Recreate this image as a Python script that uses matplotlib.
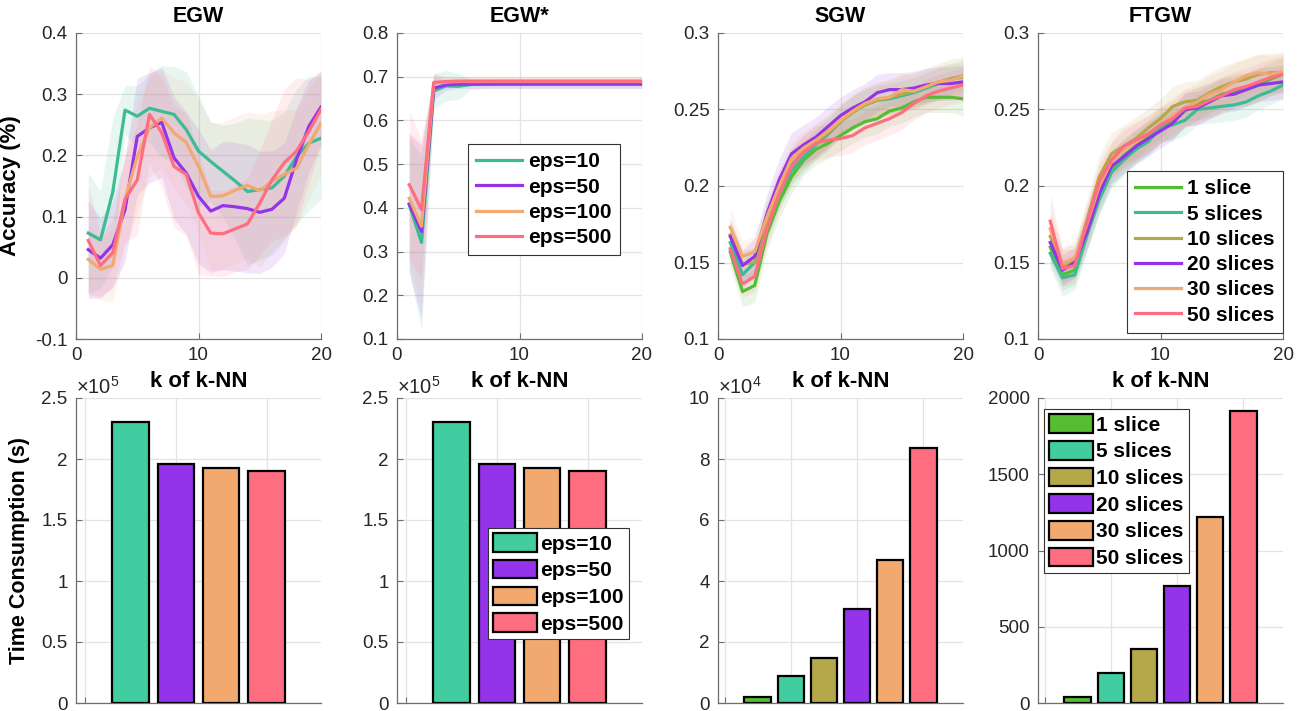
import numpy as np
import matplotlib.pyplot as plt
from matplotlib.ticker import FuncFormatter

plt.rcParams['font.family'] = ['Liberation Sans', 'DejaVu Sans']
plt.rcParams['mathtext.fontset'] = 'custom'
plt.rcParams['mathtext.rm'] = 'Liberation Sans'

k = np.arange(1, 21)

# ---- accuracy curves (mean and std over runs) ----
eps_labels = ['eps=10', 'eps=50', 'eps=100', 'eps=500']
slice_labels = ['1 slice', '5 slices', '10 slices', '20 slices', '30 slices', '50 slices']

egw_mean_10 = [0.073, 0.062, 0.140, 0.274, 0.264, 0.277, 0.272, 0.267, 0.242, 0.207,
               0.190, 0.174, 0.158, 0.141, 0.144, 0.147, 0.166, 0.198, 0.220, 0.228]
egw_mean_50 = [0.046, 0.032, 0.054, 0.111, 0.231, 0.245, 0.254, 0.196, 0.171, 0.133,
               0.109, 0.118, 0.116, 0.113, 0.107, 0.112, 0.130, 0.193, 0.247, 0.279]
egw_mean_100 = [0.030, 0.014, 0.020, 0.128, 0.198, 0.245, 0.261, 0.237, 0.221, 0.182,
                0.133, 0.134, 0.143, 0.151, 0.142, 0.158, 0.169, 0.179, 0.218, 0.252]
egw_mean_500 = [0.061, 0.020, 0.041, 0.128, 0.160, 0.267, 0.237, 0.182, 0.169, 0.106,
                0.073, 0.072, 0.080, 0.088, 0.122, 0.160, 0.188, 0.207, 0.239, 0.275]
egw_std_10 = [0.098, 0.080, 0.120, 0.040, 0.050, 0.055, 0.075, 0.078, 0.095, 0.090,
              0.065, 0.075, 0.095, 0.120, 0.115, 0.110, 0.105, 0.110, 0.110, 0.100]
egw_std_50 = [0.080, 0.065, 0.070, 0.085, 0.095, 0.090, 0.090, 0.100, 0.100, 0.110,
              0.100, 0.105, 0.105, 0.105, 0.100, 0.095, 0.090, 0.085, 0.075, 0.060]
egw_std_100 = [0.055, 0.050, 0.060, 0.080, 0.090, 0.080, 0.080, 0.090, 0.100, 0.110,
               0.120, 0.120, 0.120, 0.120, 0.125, 0.115, 0.105, 0.095, 0.090, 0.085]
egw_std_500 = [0.090, 0.050, 0.055, 0.070, 0.090, 0.080, 0.090, 0.100, 0.100, 0.100,
               0.070, 0.070, 0.070, 0.075, 0.085, 0.100, 0.120, 0.120, 0.085, 0.060]

egws_mean_10 = [0.407, 0.321, 0.667, 0.679, 0.678, 0.682, 0.683, 0.684, 0.684, 0.684,
                0.684, 0.684, 0.684, 0.684, 0.684, 0.684, 0.684, 0.684, 0.684, 0.684]
egws_mean_50 = [0.409, 0.346, 0.674, 0.681, 0.683, 0.683, 0.683, 0.683, 0.683, 0.683,
                0.683, 0.683, 0.683, 0.683, 0.683, 0.683, 0.683, 0.683, 0.683, 0.683]
egws_mean_100 = [0.422, 0.358, 0.686, 0.688, 0.689, 0.689, 0.689, 0.689, 0.689, 0.689,
                 0.689, 0.689, 0.689, 0.689, 0.689, 0.689, 0.689, 0.689, 0.689, 0.689]
egws_mean_500 = [0.453, 0.396, 0.687, 0.689, 0.690, 0.690, 0.690, 0.690, 0.690, 0.690,
                 0.690, 0.690, 0.690, 0.690, 0.690, 0.690, 0.690, 0.690, 0.690, 0.690]
egws_std_10 = [0.150, 0.200, 0.040, 0.035, 0.030, 0.012, 0.010, 0.010, 0.010, 0.010,
               0.010, 0.010, 0.010, 0.010, 0.010, 0.010, 0.010, 0.010, 0.010, 0.010]
egws_std_50 = [0.160, 0.200, 0.025, 0.012, 0.010, 0.010, 0.010, 0.010, 0.010, 0.010,
               0.010, 0.010, 0.010, 0.010, 0.010, 0.010, 0.010, 0.010, 0.010, 0.010]
egws_std_100 = [0.150, 0.180, 0.020, 0.010, 0.010, 0.010, 0.010, 0.010, 0.010, 0.010,
                0.010, 0.010, 0.010, 0.010, 0.010, 0.010, 0.010, 0.010, 0.010, 0.010]
egws_std_500 = [0.170, 0.160, 0.020, 0.010, 0.010, 0.010, 0.010, 0.010, 0.010, 0.010,
                0.010, 0.010, 0.010, 0.010, 0.010, 0.010, 0.010, 0.010, 0.010, 0.010]

sgw_mean_1 = [0.157, 0.131, 0.135, 0.169, 0.190, 0.206, 0.217, 0.224, 0.228, 0.233,
              0.238, 0.242, 0.244, 0.249, 0.251, 0.255, 0.258, 0.258, 0.258, 0.257]
sgw_mean_5 = [0.163, 0.142, 0.150, 0.175, 0.195, 0.210, 0.219, 0.227, 0.234, 0.242,
              0.249, 0.253, 0.256, 0.257, 0.259, 0.261, 0.264, 0.267, 0.270, 0.272]
sgw_mean_10 = [0.168, 0.149, 0.150, 0.178, 0.199, 0.214, 0.223, 0.229, 0.235, 0.242,
               0.248, 0.253, 0.256, 0.258, 0.260, 0.262, 0.265, 0.268, 0.270, 0.271]
sgw_mean_20 = [0.167, 0.148, 0.154, 0.182, 0.204, 0.221, 0.227, 0.232, 0.239, 0.246,
               0.251, 0.255, 0.261, 0.263, 0.263, 0.264, 0.266, 0.267, 0.267, 0.268]
sgw_mean_30 = [0.173, 0.154, 0.157, 0.180, 0.200, 0.218, 0.225, 0.230, 0.236, 0.243,
               0.249, 0.254, 0.257, 0.258, 0.263, 0.262, 0.265, 0.268, 0.269, 0.272]
sgw_mean_50 = [0.159, 0.136, 0.141, 0.172, 0.195, 0.213, 0.222, 0.228, 0.230, 0.231,
               0.233, 0.238, 0.241, 0.244, 0.248, 0.254, 0.259, 0.262, 0.264, 0.266]
sgw_std_1 = [0.010, 0.010, 0.011, 0.011, 0.011, 0.011, 0.010, 0.010, 0.010, 0.010,
             0.010, 0.010, 0.010, 0.010, 0.010, 0.010, 0.010, 0.010, 0.010, 0.011]
sgw_std_5 = [0.010, 0.009, 0.010, 0.010, 0.010, 0.010, 0.010, 0.010, 0.010, 0.010,
             0.010, 0.010, 0.010, 0.010, 0.010, 0.010, 0.010, 0.010, 0.010, 0.009]
sgw_std_10 = [0.010, 0.009, 0.010, 0.011, 0.011, 0.011, 0.011, 0.011, 0.011, 0.011,
              0.011, 0.011, 0.011, 0.012, 0.012, 0.012, 0.012, 0.012, 0.013, 0.013]
sgw_std_20 = [0.011, 0.010, 0.012, 0.013, 0.014, 0.014, 0.013, 0.013, 0.013, 0.012,
              0.012, 0.012, 0.012, 0.011, 0.011, 0.011, 0.011, 0.011, 0.011, 0.011]
sgw_std_30 = [0.013, 0.010, 0.010, 0.011, 0.011, 0.011, 0.011, 0.011, 0.011, 0.011,
              0.011, 0.011, 0.011, 0.011, 0.011, 0.011, 0.011, 0.011, 0.011, 0.011]
sgw_std_50 = [0.010, 0.009, 0.010, 0.011, 0.011, 0.011, 0.011, 0.011, 0.011, 0.011,
              0.011, 0.011, 0.011, 0.011, 0.011, 0.011, 0.011, 0.011, 0.011, 0.011]

ftgw_mean_1 = [0.160, 0.142, 0.145, 0.169, 0.193, 0.211, 0.220, 0.226, 0.232, 0.240,
               0.242, 0.249, 0.254, 0.256, 0.260, 0.262, 0.263, 0.266, 0.270, 0.273]
ftgw_mean_5 = [0.156, 0.140, 0.142, 0.168, 0.191, 0.209, 0.217, 0.224, 0.229, 0.238,
               0.240, 0.243, 0.250, 0.251, 0.252, 0.253, 0.255, 0.259, 0.262, 0.266]
ftgw_mean_10 = [0.167, 0.148, 0.151, 0.178, 0.206, 0.221, 0.226, 0.231, 0.238, 0.244,
                0.252, 0.255, 0.256, 0.261, 0.265, 0.268, 0.270, 0.273, 0.274, 0.274]
ftgw_mean_20 = [0.163, 0.145, 0.150, 0.170, 0.195, 0.213, 0.219, 0.226, 0.231, 0.236,
                0.241, 0.250, 0.251, 0.255, 0.259, 0.260, 0.263, 0.266, 0.267, 0.268]
ftgw_mean_30 = [0.172, 0.149, 0.153, 0.175, 0.200, 0.216, 0.224, 0.229, 0.234, 0.240,
                0.246, 0.251, 0.255, 0.260, 0.263, 0.268, 0.272, 0.274, 0.273, 0.275]
ftgw_mean_50 = [0.177, 0.146, 0.148, 0.176, 0.203, 0.217, 0.226, 0.230, 0.234, 0.240,
                0.244, 0.251, 0.252, 0.256, 0.259, 0.263, 0.265, 0.268, 0.271, 0.273]
ftgw_std_1 = [0.012, 0.010, 0.010, 0.011, 0.011, 0.011, 0.011, 0.011, 0.011, 0.011,
              0.011, 0.011, 0.011, 0.011, 0.011, 0.011, 0.011, 0.011, 0.011, 0.011]
ftgw_std_5 = [0.010, 0.012, 0.010, 0.011, 0.010, 0.010, 0.010, 0.010, 0.010, 0.010,
              0.010, 0.010, 0.010, 0.010, 0.010, 0.010, 0.010, 0.009, 0.009, 0.009]
ftgw_std_10 = [0.012, 0.011, 0.011, 0.013, 0.014, 0.014, 0.014, 0.014, 0.013, 0.013,
               0.013, 0.013, 0.013, 0.013, 0.013, 0.013, 0.013, 0.013, 0.013, 0.013]
ftgw_std_20 = [0.011, 0.010, 0.010, 0.011, 0.011, 0.011, 0.011, 0.011, 0.011, 0.011,
               0.011, 0.011, 0.011, 0.011, 0.011, 0.011, 0.011, 0.011, 0.011, 0.011]
ftgw_std_30 = [0.013, 0.011, 0.011, 0.012, 0.012, 0.012, 0.012, 0.012, 0.012, 0.012,
               0.012, 0.012, 0.012, 0.012, 0.012, 0.012, 0.012, 0.012, 0.012, 0.012]
ftgw_std_50 = [0.018, 0.012, 0.011, 0.012, 0.012, 0.012, 0.012, 0.012, 0.012, 0.012,
               0.012, 0.012, 0.012, 0.012, 0.012, 0.012, 0.012, 0.012, 0.012, 0.012]

# ---- running time (s) ----
egw_time = [2.30e5, 1.955e5, 1.925e5, 1.905e5]
egws_time = [2.30e5, 1.955e5, 1.925e5, 1.905e5]
sgw_time = [1.9e3, 8.7e3, 1.475e4, 3.08e4, 4.68e4, 8.35e4]
ftgw_time = [42, 199, 354, 769, 1220, 1917]

c_green = '#55BD30'
c_teal = '#41CDA0'
c_olive = '#B5A84B'
c_purple = '#9433EA'
c_orange = '#F1A96F'
c_pink = '#FF6E80'
eps_colors = [c_teal, c_purple, c_orange, c_pink]
slice_colors = [c_green, c_teal, c_olive, c_purple, c_orange, c_pink]
# lines are drawn a touch darker for the teal series
eps_line_colors = ['#3CBC92', c_purple, c_orange, c_pink]
slice_line_colors = [c_green, '#3CBC92', c_olive, c_purple, c_orange, c_pink]

fig = plt.figure(figsize=(13.07, 7.11), dpi=100)

W, H = 1307.0, 711.0
lefts = [76, 397, 718, 1038]
ax_w = 245
top_axes = [fig.add_axes([l / W, 1 - 339 / H, ax_w / W, 306 / H]) for l in lefts]
bot_axes = [fig.add_axes([l / W, 1 - 703 / H, ax_w / W, 305 / H]) for l in lefts]

tick_color = '#262626'
spine_color = '#6e6e6e'
leg_kw = dict(borderaxespad=0, prop={'weight': 'bold', 'size': 15}, fancybox=False,
              framealpha=1, edgecolor='#333333')


def style(ax):
    for s in ['top', 'right']:
        ax.spines[s].set_visible(False)
    for s in ['left', 'bottom']:
        ax.spines[s].set_color(spine_color)
        ax.spines[s].set_linewidth(0.9)
    ax.grid(True, color='#e3e3e3', linewidth=0.9)
    ax.set_axisbelow(True)
    ax.tick_params(direction='in', length=4, width=0.8, color=spine_color,
                   labelcolor=tick_color, labelsize=13.5, pad=6)


def curves(ax, means, stds, colors, labels):
    for m, s, c in zip(means, stds, colors):
        m = np.array(m)
        s = np.array(s)
        ax.fill_between(k, m - s, m + s, color=c, alpha=0.12, linewidth=0)
    for m, c, lab in zip(means, colors, labels):
        ax.plot(k, m, color=c, linewidth=2.3, label=lab)


# top row: accuracy vs k
ax = top_axes[0]
curves(ax, [egw_mean_10, egw_mean_50, egw_mean_100, egw_mean_500],
       [egw_std_10, egw_std_50, egw_std_100, egw_std_500], eps_line_colors, eps_labels)
ax.set_ylim(-0.1, 0.4)
ax.set_yticks([-0.1, 0, 0.1, 0.2, 0.3, 0.4])
ax.set_title('EGW', fontsize=15.5, fontweight='bold', pad=8)
ax.set_ylabel('Accuracy (%)', fontsize=16, fontweight='bold', labelpad=10)

ax = top_axes[1]
curves(ax, [egws_mean_10, egws_mean_50, egws_mean_100, egws_mean_500],
       [egws_std_10, egws_std_50, egws_std_100, egws_std_500], eps_line_colors, eps_labels)
ax.set_ylim(0.1, 0.8)
ax.set_yticks([0.1, 0.2, 0.3, 0.4, 0.5, 0.6, 0.7, 0.8])
ax.set_title('EGW*', fontsize=15.5, fontweight='bold', pad=8)
leg = ax.legend(loc='upper left', bbox_to_anchor=(0.29, 0.637), handlelength=2.2,
                handletextpad=0.3, labelspacing=0.3, borderpad=0.4, **leg_kw)
leg.get_frame().set_linewidth(0.8)

ax = top_axes[2]
curves(ax, [sgw_mean_1, sgw_mean_5, sgw_mean_10, sgw_mean_20, sgw_mean_30, sgw_mean_50],
       [sgw_std_1, sgw_std_5, sgw_std_10, sgw_std_20, sgw_std_30, sgw_std_50],
       slice_line_colors, slice_labels)
ax.set_ylim(0.1, 0.3)
ax.set_yticks([0.1, 0.15, 0.2, 0.25, 0.3])
ax.set_title('SGW', fontsize=15.5, fontweight='bold', pad=8)

ax = top_axes[3]
curves(ax, [ftgw_mean_1, ftgw_mean_5, ftgw_mean_10, ftgw_mean_20, ftgw_mean_30, ftgw_mean_50],
       [ftgw_std_1, ftgw_std_5, ftgw_std_10, ftgw_std_20, ftgw_std_30, ftgw_std_50],
       slice_line_colors, slice_labels)
ax.set_ylim(0.1, 0.3)
ax.set_yticks([0.1, 0.15, 0.2, 0.25, 0.3])
ax.set_title('FTGW', fontsize=15.5, fontweight='bold', pad=8)
leg = ax.legend(loc='lower right', bbox_to_anchor=(1.0, 0.02), handlelength=2.2,
                handletextpad=0.3, labelspacing=0.3, borderpad=0.4, **leg_kw)
leg.get_frame().set_linewidth(0.8)

for ax in top_axes:
    style(ax)
    ax.set_xlim(0, 20)
    ax.set_xticks([0, 10, 20])
    ax.yaxis.set_major_formatter(FuncFormatter(lambda v, p: '%g' % round(v, 3)))
    ax.set_xlabel('k of k-NN', fontsize=16, fontweight='bold', labelpad=5)


# bottom row: time consumption
def bars(ax, values, colors, labels):
    pos = np.arange(1, len(values) + 1)
    handles = ax.bar(pos, values, width=0.8, color=colors, edgecolor='black',
                     linewidth=1.6, zorder=3)
    ax.set_xlim(-0.2, len(values) + 1.2)
    ax.set_xticks(np.arange(0, len(values) + 1, 2))
    ax.set_xticklabels([])
    for h, lab in zip(handles, labels):
        h.set_label(lab)


def scaled(ax, exp):
    ax.yaxis.set_major_formatter(FuncFormatter(lambda v, p: '%g' % round(v / 10 ** exp, 3)))
    ax.text(0.0, 1.0, r'$\times\mathregular{10^{%d}}$' % exp, transform=ax.transAxes,
            ha='left', va='bottom', fontsize=14.5, color=tick_color)


ax = bot_axes[0]
bars(ax, egw_time, eps_colors, eps_labels)
ax.set_ylim(0, 2.5e5)
ax.set_yticks([0, 0.5e5, 1e5, 1.5e5, 2e5, 2.5e5])
ax.set_ylabel('Time Consumption (s)', fontsize=15.5, fontweight='bold', labelpad=8)

ax = bot_axes[1]
bars(ax, egws_time, eps_colors, eps_labels)
ax.set_ylim(0, 2.5e5)
ax.set_yticks([0, 0.5e5, 1e5, 1.5e5, 2e5, 2.5e5])
leg = ax.legend(loc='upper left', bbox_to_anchor=(0.371, 0.574), handlelength=2.1,
                handleheight=1.0, handletextpad=0.15, labelspacing=0.3,
                borderpad=0.25, **leg_kw)
leg.get_frame().set_linewidth(0.8)

ax = bot_axes[2]
bars(ax, sgw_time, slice_colors, slice_labels)
ax.set_ylim(0, 1e5)
ax.set_yticks([0, 2e4, 4e4, 6e4, 8e4, 1e5])

ax = bot_axes[3]
bars(ax, ftgw_time, slice_colors, slice_labels)
ax.set_ylim(0, 2000)
ax.set_yticks([0, 500, 1000, 1500, 2000])
leg = ax.legend(loc='upper left', bbox_to_anchor=(0.025, 0.964), handlelength=2.1,
                handleheight=1.0, handletextpad=0.15, labelspacing=0.3,
                borderpad=0.25, **leg_kw)
leg.get_frame().set_linewidth(0.8)

for ax in bot_axes:
    style(ax)

for ax in bot_axes[:2]:
    scaled(ax, 5)
scaled(bot_axes[2], 4)

plt.savefig('out.png', dpi=100)
